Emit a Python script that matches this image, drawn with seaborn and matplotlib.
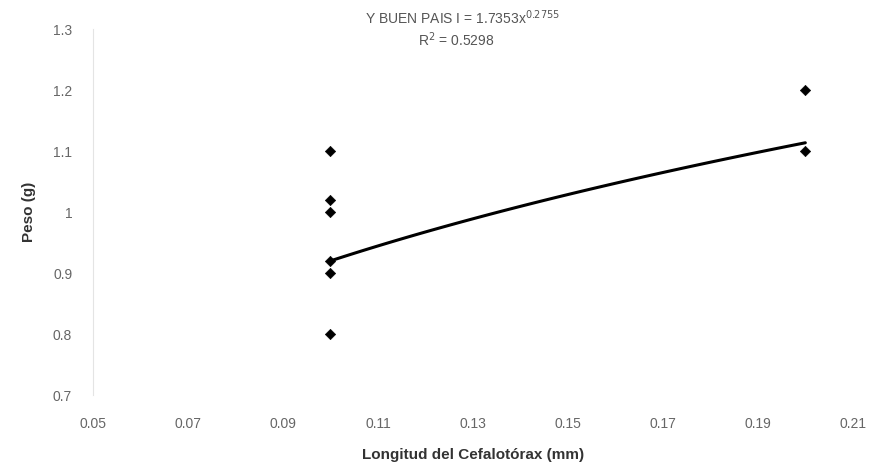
import numpy as np
import pandas as pd
import matplotlib
matplotlib.use("Agg")
import matplotlib.pyplot as plt
import seaborn as sns

longitud = [0.10, 0.10, 0.10, 0.10, 0.10, 0.10, 0.20, 0.20]
peso = [1.10, 1.02, 1.00, 0.92, 0.90, 0.80, 1.20, 1.10]
coef_a = 1.7353
coef_b = 0.2755
r2 = 0.5298
xticks = [0.05, 0.07, 0.09, 0.11, 0.13, 0.15, 0.17, 0.19, 0.21]
yticks = [0.7, 0.8, 0.9, 1.0, 1.1, 1.2, 1.3]
yticklabels = ["0.7", "0.8", "0.9", "1", "1.1", "1.2", "1.3"]

sns.set_theme(style="white")
plt.rcParams['font.family'] = ['Liberation Sans', 'DejaVu Sans']

fig = plt.figure(figsize=(8.81, 4.71), dpi=100)
ax = fig.add_axes([0.1056, 0.161, 0.8624, 0.777])

df = pd.DataFrame({"x": longitud, "y": peso})
sns.scatterplot(data=df, x="x", y="y", marker="D", s=28, color="black",
                edgecolor="black", ax=ax, zorder=3)

xfit = np.linspace(min(longitud), max(longitud), 100)
fit = pd.DataFrame({"x": xfit, "y": coef_a * xfit ** coef_b})
sns.lineplot(data=fit, x="x", y="y", color="black", linewidth=2.2, ax=ax)

ax.set_xlim(0.05, 0.21)
ax.set_ylim(0.7, 1.3)
ax.set_xticks(xticks)
ax.set_xticklabels([f"{t:.2f}" for t in xticks], color="#666666", fontsize=10)
ax.set_yticks(yticks)
ax.set_yticklabels(yticklabels, color="#666666", fontsize=10)
ax.tick_params(axis="x", length=0, pad=16)
ax.tick_params(axis="y", length=0, pad=15)
for s in ax.spines.values():
    s.set_visible(False)
ax.spines["left"].set_visible(True)
ax.spines["left"].set_color("#e4e4e4")
ax.spines["left"].set_linewidth(0.8)

ax.set_xlabel("Longitud del Cefalotórax (mm)", fontsize=11, fontweight="bold",
              color="#333333", labelpad=12)
ax.set_ylabel("Peso (g)", fontsize=11, fontweight="bold", color="#333333", labelpad=12)

fig.text(0.525, 0.962, f"Y BUEN PAIS I = {coef_a}x$^{{{coef_b}}}$", ha="center",
         va="center", fontsize=10, color="#555555")
fig.text(0.518, 0.915, f"R$^2$ = {r2}", ha="center", va="center", fontsize=10,
         color="#555555")

fig.savefig("out.png", dpi=100)
